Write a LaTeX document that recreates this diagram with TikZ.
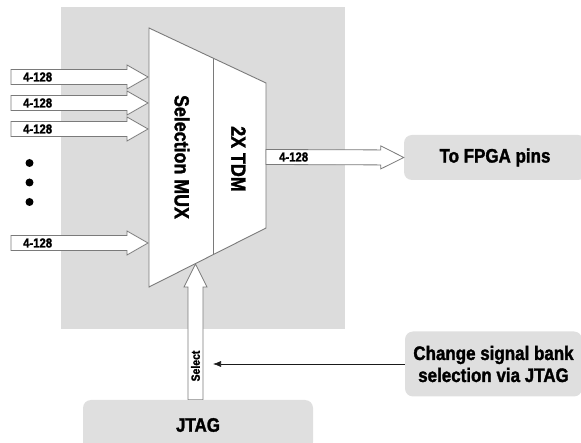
\documentclass[tikz,border=0pt]{standalone}
\usepackage{fontspec}
\setmainfont{Liberation Sans}[FakeStretch=0.87,BoldFeatures={FakeBold=1.6}]
\usetikzlibrary{positioning,arrows.meta,calc,backgrounds}
\definecolor{cPanel}{HTML}{DCDCDC}
\definecolor{cBox}{HTML}{DFDFDF}
\definecolor{cLine}{HTML}{7A7A7A}
\definecolor{cInk}{HTML}{1A1A1A}
% hollow bus arrow: start, tip, half shaft, half head, head length
\newcommand\fatarrow[5]{%
  \coordinate (fa-h) at ($(#2)!#5!(#1)$);
  \draw[fat] ($(#1)!#3!90:(#2)$) -- ($(fa-h)!#3!90:(#2)$) -- ($(fa-h)!#4!90:(#2)$) -- (#2)
    -- ($(fa-h)!#4!-90:(#2)$) -- ($(fa-h)!#3!-90:(#2)$) -- ($(#1)!#3!-90:(#2)$) -- cycle;}
\begin{document}
\begin{tikzpicture}[x=1pt,y=-1pt,
  box/.style={rounded corners=8pt,fill=cBox,align=center,inner sep=0pt,
    font=\fontsize{19.5}{22}\selectfont\bfseries},
  muxtxt/.style={inner sep=0pt,font=\fontsize{20.5}{22}\selectfont\bfseries},
  bus/.style={inner sep=0pt,font=\fontsize{13}{14}\selectfont\bfseries},
  mux/.style={draw=cLine,fill=white,line width=0.9pt},
  fat/.style={draw=cLine,fill=white,line width=0.8pt},
  dot/.style={circle,fill=black,inner sep=0pt,minimum size=8pt},
  ar/.style={-{Latex[length=8pt,width=6pt]},draw=cInk,line width=0.6pt}]
  \useasboundingbox (0,0) rectangle (581,443);
  \begin{scope}[on background layer]
    \fill[cPanel] (61,7) rectangle (345,329);
  \end{scope}
  % side boxes
  \node[box,minimum width=182pt,minimum height=45pt] (fpga) at (495,157.5) {To FPGA pins};
  \node[box,minimum width=177pt,minimum height=65pt] (chg) at (493.5,364) {Change signal bank\\selection via JTAG};
  \node[box,minimum width=230pt,minimum height=50pt] (jtag) at (198,425) {JTAG};
  % mux / tdm block
  \coordinate (mux-tl) at (149,28);
  \coordinate (mux-tr) at (266,83);
  \coordinate (mux-br) at (266,228);
  \coordinate (mux-bl) at (149,287);
  \draw[mux] (mux-tl) -- (mux-tr) -- (mux-br) -- (mux-bl) -- cycle;
  \draw[mux] ($(mux-tl)!0.547!(mux-tr)$) -- ($(mux-bl)!0.547!(mux-br)$);
  \node[muxtxt,rotate=-90] (selmux) at (182,157) {Selection MUX};
  \node[muxtxt,rotate=-90] (tdm) at (238.5,159) {2X TDM};
  % input buses
  \coordinate (in1) at (11,77);  \coordinate (mx1) at (148,77);
  \coordinate (in2) at (11,103); \coordinate (mx2) at (148,103);
  \coordinate (in3) at (11,129); \coordinate (mx3) at (148,129);
  \coordinate (in4) at (11,243); \coordinate (mx4) at (148,243);
  \fatarrow{in1}{mx1}{7.5pt}{12pt}{21pt}
  \fatarrow{in2}{mx2}{7.5pt}{12pt}{21pt}
  \fatarrow{in3}{mx3}{7.5pt}{12pt}{21pt}
  \fatarrow{in4}{mx4}{7.5pt}{12pt}{21pt}
  \node[bus,right=12pt of in1] (b1) {4-128};
  \node[bus,right=12pt of in2] (b2) {4-128};
  \node[bus,right=12pt of in3] (b3) {4-128};
  \node[bus,right=12pt of in4] (b4) {4-128};
  \node[dot] (d1) at (29.5,163) {};
  \node[dot] (d2) at (29.5,182.5) {};
  \node[dot] (d3) at (29.5,202) {};
  % output bus
  \coordinate (tdm-out) at (266,157);
  \fatarrow{tdm-out}{fpga.west}{7.5pt}{11.5pt}{23pt}
  \node[bus,right=13pt of tdm-out] (bout) {4-128};
  % select from JTAG
  \coordinate (sel-tip) at (195.5,264);
  \coordinate (sel-in) at (sel-tip |- jtag.north);
  \begin{scope}[on background layer]
    \fatarrow{sel-in}{sel-tip}{7.5pt}{11.5pt}{23pt}
  \end{scope}
  \node[bus,rotate=90,font=\fontsize{12}{13}\selectfont\bfseries] (selt) at (195.5,366) {Select};
  \coordinate (sel-note) at (213,364);
  \draw[ar] (chg.west) -- (sel-note);
\end{tikzpicture}
\end{document}
